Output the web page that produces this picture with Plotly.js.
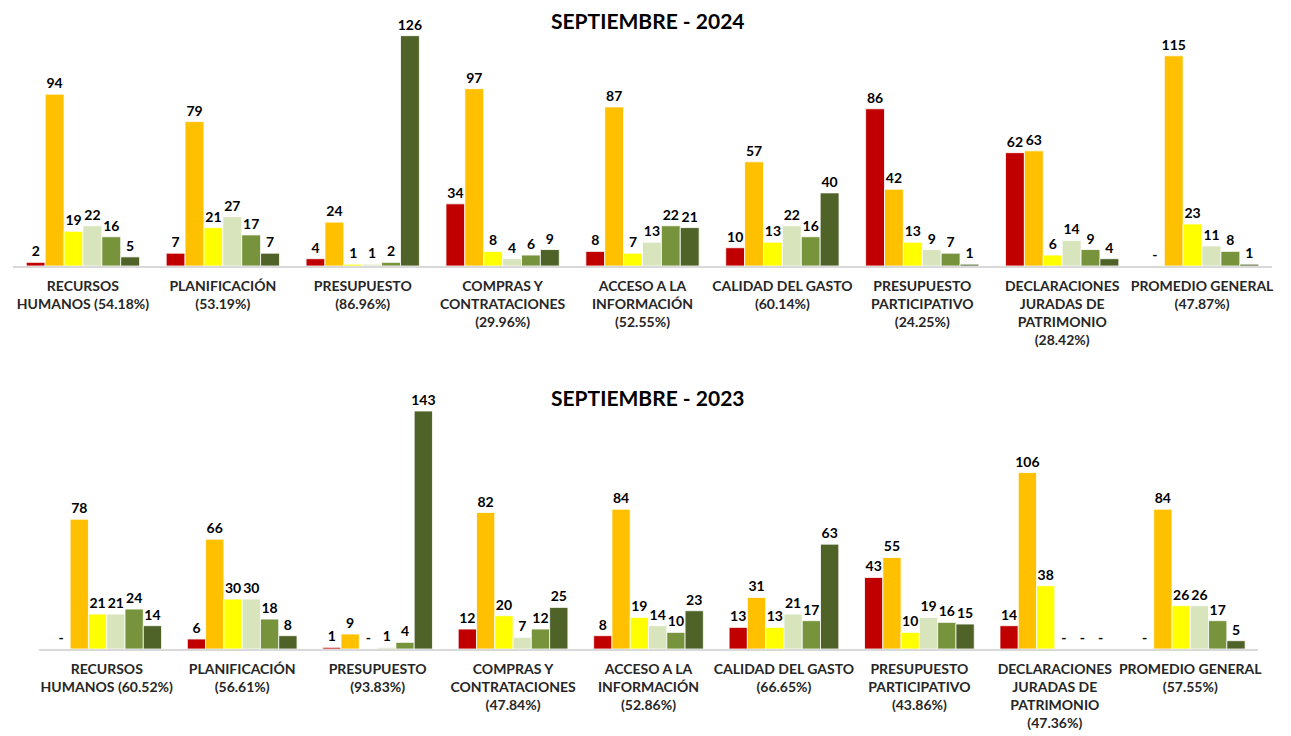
<!DOCTYPE html>
<html>
<head>
<meta charset="utf-8">
<script src="https://cdn.plot.ly/plotly-3.0.1.min.js"></script>
<style>html,body{margin:0;padding:0;background:#fff;}#chart{width:1291px;height:736px;}</style>
</head>
<body>
<div id="chart"></div>
<script>
const categories = ["RH","PLAN","PRES","COMPRAS","ACCESO","CALIDAD","PP","DJ","PROM"];
const labelNames = [
  "RECURSOS<br>HUMANOS",
  "PLANIFICACIÓN",
  "PRESUPUESTO",
  "COMPRAS Y<br>CONTRATACIONES",
  "ACCESO A LA<br>INFORMACIÓN",
  "CALIDAD DEL GASTO",
  "PRESUPUESTO<br>PARTICIPATIVO",
  "DECLARACIONES<br>JURADAS DE<br>PATRIMONIO",
  "PROMEDIO GENERAL"
];
// whether the percentage sits on the same line as the last name line
const sameLine2024 = [true,false,false,false,false,false,false,false,false];
const sameLine2023 = [true,false,false,false,false,false,false,false,false];
const pct2024 = ["54.18%","53.19%","86.96%","29.96%","52.55%","60.14%","24.25%","28.42%","47.87%"];
const pct2023 = ["60.52%","56.61%","93.83%","47.84%","52.86%","66.65%","43.86%","47.36%","57.55%"];

const seriesNames = ["Nivel 1","Nivel 2","Nivel 3","Nivel 4","Nivel 5","Nivel 6"];
const seriesColors = ["#C00000","#FFC000","#FFFF00","#D8E4BC","#77933C","#4F6228"];

// 2024 values per series (across categories)
const s2024_1 = [2, 7, 4, 34, 8, 10, 86, 62, 0];
const s2024_2 = [94, 79, 24, 97, 87, 57, 42, 63, 115];
const s2024_3 = [19, 21, 1, 8, 7, 13, 13, 6, 23];
const s2024_4 = [22, 27, 1, 4, 13, 22, 9, 14, 11];
const s2024_5 = [16, 17, 2, 6, 22, 16, 7, 9, 8];
const s2024_6 = [5, 7, 126, 9, 21, 40, 1, 4, 1];

// 2023 values per series
const s2023_1 = [0, 6, 1, 12, 8, 13, 43, 14, 0];
const s2023_2 = [78, 66, 9, 82, 84, 31, 55, 106, 84];
const s2023_3 = [21, 30, 0, 20, 19, 13, 10, 38, 26];
const s2023_4 = [21, 30, 1, 7, 14, 21, 19, 0, 26];
const s2023_5 = [24, 18, 4, 12, 10, 17, 16, 0, 17];
const s2023_6 = [14, 8, 143, 25, 23, 63, 15, 0, 5];

const data2024 = [s2024_1,s2024_2,s2024_3,s2024_4,s2024_5,s2024_6];
const data2023 = [s2023_1,s2023_2,s2023_3,s2023_4,s2023_5,s2023_6];

const FONT = "Lato, 'Open Sans', sans-serif";

function buildLabels(pcts, same){
  return labelNames.map((n,i)=> same[i] ? n + " (" + pcts[i] + ")" : n + "<br>(" + pcts[i] + ")");
}

const traces = [];
function addTraces(dataset, xa, ya){
  dataset.forEach((vals, k)=>{
    traces.push({
      type: "bar",
      x: categories,
      y: vals,
      name: seriesNames[k],
      xaxis: xa, yaxis: ya,
      marker: {color: seriesColors[k], line: {color: "#ffffff", width: 0.8}},
      text: vals.map(v => v === 0 ? "-" : String(v)),
      textposition: "outside",
      constraintext: "none",
      cliponaxis: false,
      textfont: {family: FONT, size: 14, color: "#000000", weight: 700},
      showlegend: false,
      hoverinfo: "x+y"
    });
  });
}
addTraces(data2024, "x", "y");
addTraces(data2023, "x2", "y2");

const tickFont = {family: FONT, size: 14, color: "#262626", weight: 700};

const layout = {
  width: 1291, height: 736,
  margin: {l: 0, r: 0, t: 0, b: 0},
  paper_bgcolor: "#ffffff",
  plot_bgcolor: "#ffffff",
  barmode: "group",
  bargap: 0.19,
  bargroupgap: 0,
  showlegend: false,
  xaxis: {
    domain: [13/1291, 1272/1291],
    anchor: "y",
    type: "category",
    tickvals: categories,
    ticktext: buildLabels(pct2024, sameLine2024),
    tickfont: tickFont,
    ticklabelstandoff: 6,
    showline: true, linecolor: "#D9D9D9", linewidth: 2,
    showgrid: false, zeroline: false, ticks: "",
    fixedrange: true
  },
  yaxis: {
    domain: [1 - 266/736, 1 - 15/736],
    anchor: "x",
    range: [0, 137.3],
    visible: false,
    showgrid: false, zeroline: false
  },
  xaxis2: {
    domain: [39/1291, 1258/1291],
    anchor: "y2",
    type: "category",
    tickvals: categories,
    ticktext: buildLabels(pct2023, sameLine2023),
    tickfont: tickFont,
    ticklabelstandoff: 6,
    showline: true, linecolor: "#D9D9D9", linewidth: 2,
    showgrid: false, zeroline: false, ticks: "",
    fixedrange: true
  },
  yaxis2: {
    domain: [1 - 649/736, 1 - 400/736],
    anchor: "x2",
    range: [0, 149.6],
    visible: false,
    showgrid: false, zeroline: false
  },
  annotations: [
    {text: "SEPTIEMBRE - 2024", xref: "paper", yref: "paper", x: 648/1291, y: 1 - 20/736,
     xanchor: "center", yanchor: "middle", showarrow: false,
     font: {family: FONT, size: 21, color: "#000000", weight: 700}},
    {text: "SEPTIEMBRE - 2023", xref: "paper", yref: "paper", x: 648/1291, y: 1 - 397/736,
     xanchor: "center", yanchor: "middle", showarrow: false,
     font: {family: FONT, size: 21, color: "#000000", weight: 700}}
  ]
};

Plotly.newPlot("chart", traces, layout, {displayModeBar: false, staticPlot: true});
</script>
</body>
</html>
